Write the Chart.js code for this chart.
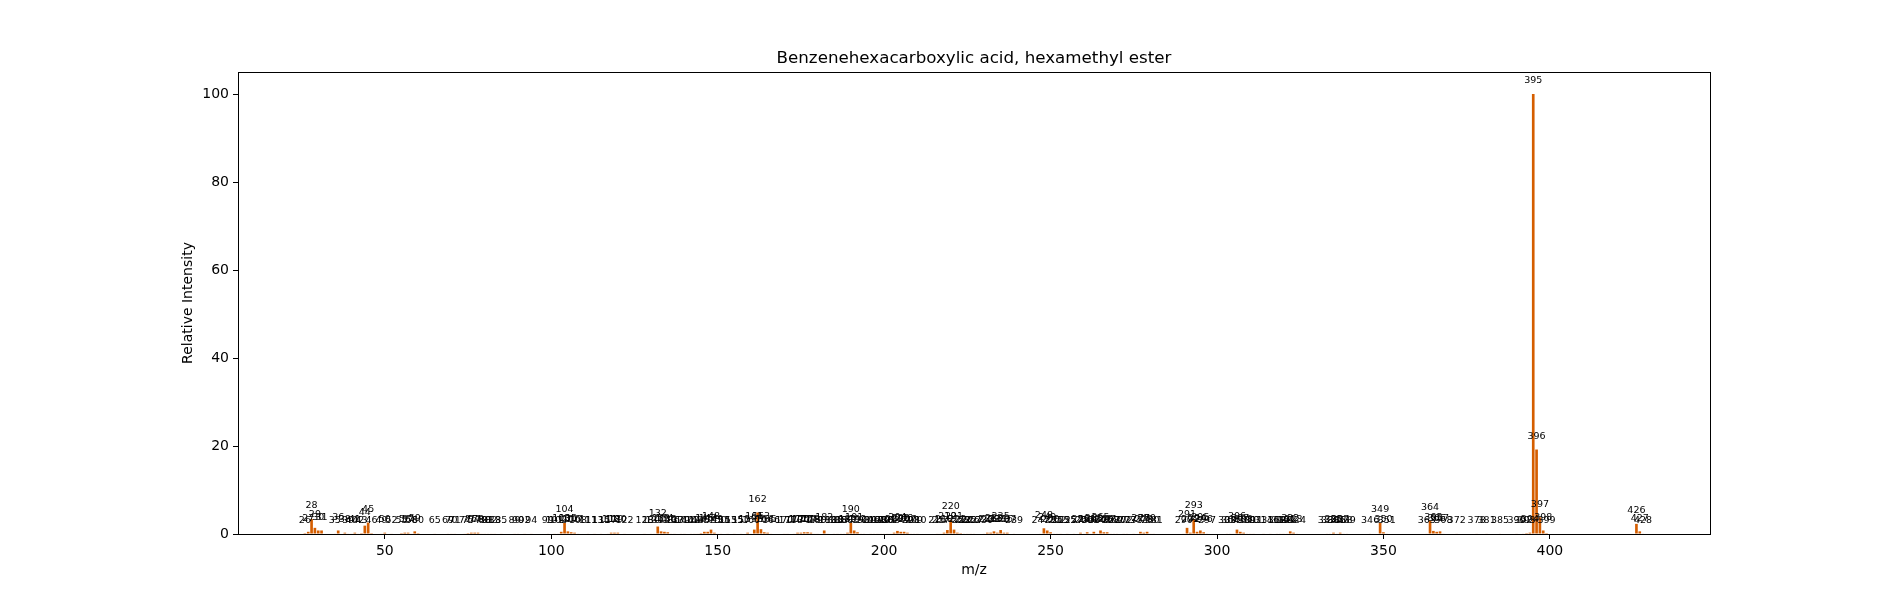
<!DOCTYPE html>
<html>
<head>
<meta charset="utf-8">
<title>Benzenehexacarboxylic acid, hexamethyl ester</title>
<script src="https://cdn.jsdelivr.net/npm/chart.js@4.4.1/dist/chart.umd.min.js"></script>
<style>
    html, body { margin: 0; padding: 0; background: #fff; }
    #wrap { width: 1900px; height: 600px; }
</style>
</head>
<body>
<div id="wrap"><canvas id="msChart" width="1900" height="600"></canvas></div>
<script>
// ========================================
// Mass spectrum data
// ========================================
const chartTitle = 'Benzenehexacarboxylic acid, hexamethyl ester';
const xTitle = 'm/z';
const yTitle = 'Relative Intensity';

const mzValues = [
    26, 27, 28, 29, 30, 31, 35, 36, 38, 39, 40, 41, 42, 43, 44, 45, 46,
    49, 50, 52, 55, 56, 57, 58, 59, 60, 65, 69, 70, 71,
    74, 75, 76, 77, 78, 79, 80, 81, 82, 83, 85, 89, 90, 92, 94,
    99, 101, 102, 103, 104, 105, 106, 107, 108, 111,
    113, 115, 117, 118, 119, 120, 122,
    128, 130, 131, 132, 133, 134, 135, 136, 137, 139, 140, 142, 143, 144, 145, 146, 147, 148, 149,
    150, 151, 153, 155, 157, 159, 160, 161, 162, 163, 164, 165, 166,
    170, 171, 173, 174, 175, 176, 177, 178, 179, 180, 182, 183, 185, 186, 187, 188, 189, 190, 191, 192, 193, 194,
    196, 197, 198, 199, 200, 201, 202, 203, 204, 205, 206, 207, 208, 209, 210,
    216, 217, 218, 219, 220, 221, 222, 223, 224, 225, 226, 227,
    230, 231, 232, 233, 234, 235, 236, 237, 239,
    247, 248, 249, 250, 251, 252, 253, 255, 257, 259, 260, 261, 262, 263, 264, 265, 266, 267, 268, 269, 270, 272, 273, 275,
    277, 278, 279, 280, 281,
    290, 291, 292, 293, 294, 295, 296, 297,
    303, 304, 305, 306, 307, 308, 309, 310, 311,
    314, 316, 318, 319, 320, 321, 322, 323, 324,
    333, 334, 335, 336, 337, 338, 339,
    346, 349, 350, 351,
    363, 364, 365, 366, 367, 368, 372, 378, 381, 385,
    390, 392, 393, 394, 395, 396, 397, 398, 399,
    426, 427, 428
];

const intensities = [
    0.2, 0.5, 3.4, 1.4, 0.8, 0.8, 0.1, 0.8, 0.3, 0.1, 0.1, 0.3, 0.1, 0.2, 1.9, 2.6, 0.2,
    0.1, 0.3, 0.1, 0.2, 0.3, 0.3, 0.1, 0.6, 0.2, 0.1, 0.1, 0.1, 0.1,
    0.1, 0.2, 0.3, 0.3, 0.3, 0.1, 0.1, 0.1, 0.1, 0.1, 0.1, 0.1, 0.1, 0.1, 0.1,
    0.1, 0.1, 0.1, 0.5, 2.5, 0.6, 0.4, 0.3, 0.1, 0.1,
    0.1, 0.1, 0.1, 0.3, 0.3, 0.3, 0.1,
    0.1, 0.1, 0.1, 1.7, 0.6, 0.5, 0.4, 0.1, 0.1, 0.1, 0.1, 0.1, 0.1, 0.1, 0.2, 0.5, 0.5, 1.0, 0.3,
    0.1, 0.1, 0.1, 0.1, 0.1, 0.3, 0.1, 1.0, 4.9, 1.1, 0.4, 0.3, 0.1,
    0.1, 0.1, 0.1, 0.3, 0.3, 0.4, 0.4, 0.3, 0.1, 0.1, 0.8, 0.1, 0.1, 0.1, 0.1, 0.1, 0.3, 2.6, 0.8, 0.4, 0.1, 0.1,
    0.1, 0.1, 0.1, 0.1, 0.1, 0.1, 0.1, 0.3, 0.7, 0.5, 0.5, 0.3, 0.1, 0.1, 0.1,
    0.1, 0.1, 0.3, 0.9, 3.2, 1.0, 0.3, 0.2, 0.1, 0.1, 0.1, 0.1,
    0.1, 0.3, 0.3, 0.6, 0.3, 0.9, 0.3, 0.3, 0.1,
    0.1, 1.3, 0.8, 0.4, 0.1, 0.1, 0.1, 0.1, 0.1, 0.3, 0.1, 0.4, 0.1, 0.5, 0.1, 0.8, 0.4, 0.4, 0.1, 0.1, 0.1, 0.1, 0.1, 0.1,
    0.5, 0.3, 0.5, 0.1, 0.1,
    0.1, 1.4, 0.3, 3.4, 0.5, 0.8, 0.4, 0.1,
    0.1, 0.1, 0.1, 1.0, 0.5, 0.3, 0.1, 0.1, 0.1,
    0.1, 0.1, 0.1, 0.1, 0.1, 0.1, 0.6, 0.3, 0.1,
    0.1, 0.1, 0.3, 0.1, 0.3, 0.1, 0.1,
    0.1, 2.5, 0.4, 0.1,
    0.1, 3.0, 0.7, 0.5, 0.6, 0.1, 0.1, 0.1, 0.1, 0.1,
    0.1, 0.1, 0.2, 0.3, 100, 19.2, 3.8, 0.8, 0.2,
    2.3, 0.6, 0.1
];

const xTicks = [50, 100, 150, 200, 250, 300, 350, 400];
const yTicks = [0, 20, 40, 60, 80, 100];

// ========================================
// Helpers / plugins
// ========================================
const barColor = '#d55e00';
const fontFamily = "'DejaVu Sans', sans-serif";

// peak labels, frame and titles drawn on top of the bars
const peakLabels = {
    id: 'peakLabels',
    afterDatasetsDraw(chart) {
        const ctx = chart.ctx;
        const xs = chart.scales.x;
        const ys = chart.scales.y;
        const area = chart.chartArea;

        ctx.save();
        ctx.fillStyle = '#000';
        ctx.font = '9.5px ' + fontFamily;
        ctx.textAlign = 'center';
        ctx.textBaseline = 'alphabetic';
        mzValues.forEach((mz, i) => {
            const px = xs.getPixelForValue(mz);
            const py = ys.getPixelForValue(intensities[i] + 2.4);
            ctx.fillText(String(mz), px, py);
        });

        // full box around the axes
        ctx.strokeStyle = '#000';
        ctx.lineWidth = 1;
        ctx.strokeRect(area.left + 0.5, area.top + 0.5, area.right - area.left, area.bottom - area.top);

        // titles
        const cx = (area.left + area.right) / 2;
        ctx.textBaseline = 'middle';
        ctx.font = '16.7px ' + fontFamily;
        ctx.fillText(chartTitle, cx, 59);

        ctx.font = '14px ' + fontFamily;
        ctx.fillText(xTitle, cx, 570);

        ctx.translate(188, (area.top + area.bottom) / 2);
        ctx.rotate(-Math.PI / 2);
        ctx.fillText(yTitle, 0, 0);
        ctx.restore();
    }
};

function initializeChart() {
    const canvas = document.getElementById('msChart');
    if (!canvas) return;

    const points = mzValues.map((mz, i) => ({ x: mz, y: intensities[i] }));

    new Chart(canvas, {
        type: 'bar',
        data: {
            datasets: [{
                data: points,
                backgroundColor: barColor,
                borderWidth: 0,
                barPercentage: 0.8,
                categoryPercentage: 1.0
            }]
        },
        options: {
            responsive: false,
            animation: false,
            devicePixelRatio: 1,
            layout: {
                padding: { top: 72, right: 190, bottom: 0, left: 0 }
            },
            plugins: {
                legend: { display: false },
                tooltip: { enabled: false },
                title: { display: false }
            },
            scales: {
                x: {
                    type: 'linear',
                    min: 5.9,
                    max: 448.1,
                    offset: false,
                    afterBuildTicks: (scale) => {
                        scale.ticks = xTicks.map(v => ({ value: v }));
                    },
                    afterFit: (scale) => { scale.height = 66; },
                    ticks: {
                        color: '#000',
                        padding: 4,
                        maxRotation: 0,
                        font: { family: fontFamily, size: 14 }
                    },
                    grid: {
                        offset: false,
                        drawOnChartArea: false,
                        drawTicks: true,
                        tickLength: 5,
                        color: '#000'
                    },
                    border: { display: true, color: '#000', width: 1 }
                },
                y: {
                    type: 'linear',
                    min: 0,
                    max: 105,
                    afterBuildTicks: (scale) => {
                        scale.ticks = yTicks.map(v => ({ value: v }));
                    },
                    afterFit: (scale) => { scale.width = 238; },
                    ticks: {
                        color: '#000',
                        padding: 4,
                        font: { family: fontFamily, size: 14 }
                    },
                    grid: {
                        drawOnChartArea: false,
                        drawTicks: true,
                        tickLength: 5,
                        color: '#000'
                    },
                    border: { display: true, color: '#000', width: 1 }
                }
            }
        },
        plugins: [peakLabels]
    });
}

document.addEventListener('DOMContentLoaded', initializeChart);
</script>
</body>
</html>
